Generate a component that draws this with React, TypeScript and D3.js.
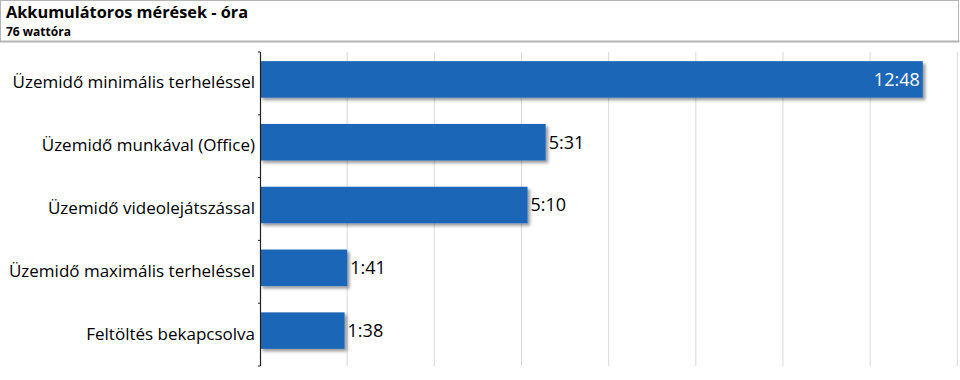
import React from "react";
import * as d3 from "d3";

const categories = [
  "Üzemidő minimális terheléssel",
  "Üzemidő munkával (Office)",
  "Üzemidő videolejátszással",
  "Üzemidő maximális terheléssel",
  "Feltöltés bekapcsolva",
];
const valueLabels = ["12:48", "5:31", "5:10", "1:41", "1:38"];
// minutes
const values = [768, 331, 310, 101, 98];
const gridStep = 101;
const gridCount = 8;

const title = "Akkumulátoros mérések - óra";
const subtitle = "76 wattóra";

const W = 960;
const H = 380;
const left = 260;
const right = 957.3;
const top = 52;
const bottom = 366;
const font = "'Open Sans', sans-serif";

export default function App() {
  const x = d3.scaleLinear().domain([0, gridStep * gridCount]).range([left, right]);
  const y = d3.scaleBand().domain(categories).range([top, bottom]).paddingInner(0).paddingOuter(0);
  const bw = y.bandwidth();
  const barH = 36.5;
  const grid = d3.range(1, gridCount + 1).map((i) => i * gridStep);
  const boundaries = d3.range(0, categories.length + 1).map((i) => top + i * bw);

  return (
    <svg width={W} height={H} style={{ position: "absolute", left: 0, top: 0, background: "#fff" }}>
      <defs>
        <filter id="sh" x="-5%" y="-20%" width="115%" height="160%">
          <feDropShadow dx="2.5" dy="2.5" stdDeviation="1.5" floodColor="#000" floodOpacity="0.4" />
        </filter>
      </defs>
      <rect x={0.5} y={0.5} width={958} height={41} fill="#fff" stroke="#b4b4b4" strokeWidth={1} />
      <line x1={0} x2={959.5} y1={41.5} y2={41.5} stroke="#b4b4b4" strokeWidth={2} />
      <text x={6} y={18} fontFamily={font} fontWeight="bold" fontSize={16.3} fill="#000">{title}</text>
      <text x={6} y={35.5} fontFamily={font} fontWeight="bold" fontSize={12} fill="#000">{subtitle}</text>

      {grid.map((g) => (
        <line key={g} x1={x(g)} x2={x(g)} y1={top} y2={bottom} stroke="#d9d9d9" strokeWidth={1} />
      ))}

      {categories.map((c, i) => {
        const yc = (y(c) as number) + bw / 2 - 4;
        const x1 = x(values[i]);
        const inside = i === 0;
        return (
          <g key={c}>
            <rect x={x(0)} y={yc - barH / 2} width={x1 - x(0)} height={barH} fill="#1a66b8" filter="url(#sh)" />
            <text
              x={inside ? x1 - 3 : x1 + 3}
              y={yc}
              dy="0.35em"
              textAnchor={inside ? "end" : "start"}
              fontFamily={font}
              fontSize={18}
              fill={inside ? "#fff" : "#000"}
            >
              {valueLabels[i]}
            </text>
            <text x={left - 5} y={(y(c) as number) + bw / 2 - 1} dy="0.35em" textAnchor="end" fontFamily={font} fontSize={17} fill="#000">
              {c}
            </text>
          </g>
        );
      })}

      <line x1={left + 0.5} x2={left + 0.5} y1={top} y2={bottom} stroke="#222" strokeWidth={1.2} />
      {boundaries.map((b, i) => (
        <line key={i} x1={left - 2} x2={left} y1={b} y2={b} stroke="#222" strokeWidth={1} />
      ))}
    </svg>
  );
}
